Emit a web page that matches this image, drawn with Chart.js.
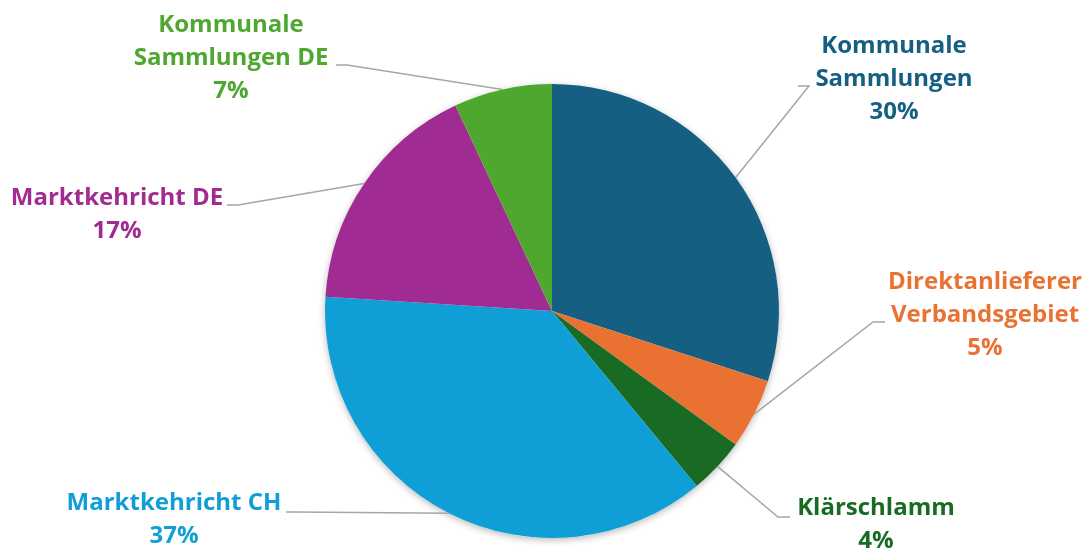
<!DOCTYPE html>
<html>
<head>
<meta charset="utf-8">
<script src="https://cdn.jsdelivr.net/npm/chart.js@4/dist/chart.umd.min.js"></script>
<style>
  html, body { margin: 0; padding: 0; background: #fff; }
  #wrap { width: 1085px; height: 549px; }
</style>
</head>
<body>
<div id="wrap"><canvas id="pieChart" width="1085" height="549"></canvas></div>
<script>
// Daten
const categories = [
    ['Kommunale', 'Sammlungen'],
    ['Direktanlieferer', 'Verbandsgebiet'],
    ['Klärschlamm'],
    ['Marktkehricht CH'],
    ['Marktkehricht DE'],
    ['Kommunale', 'Sammlungen DE']
];
const shares = [30, 5, 4, 37, 17, 7];
const sliceColors = ['#156082', '#E97132', '#196B24', '#0F9ED5', '#A02B93', '#4EA72E'];

// Lage der Beschriftungen (Textmitte, Zeilen, Knickpunkt der Führungslinie)
const labelLayout = [
    { x: 894, y: 46, elbow: [809, 86], end: 798 },
    { x: 985, y: 282, elbow: [873, 322], end: 885 },
    { x: 876, y: 508, elbow: [778, 517], end: 790 },
    { x: 174, y: 503, elbow: [296, 512], end: 286 },
    { x: 117, y: 198, elbow: [238, 205], end: 227 },
    { x: 231, y: 25, elbow: [347, 65], end: 336 }
];
const lineGap = 33;
const labelFont = 'bold 24px "Open Sans", sans-serif';

const total = shares.reduce((a, b) => a + b, 0);

// Schatten hinter dem Kreis
const shadowPlugin = {
    id: 'pieShadow',
    beforeDatasetsDraw(chart) {
        const arc = chart.getDatasetMeta(0).data[0];
        if (!arc) return;
        const ctx = chart.ctx;
        ctx.save();
        ctx.shadowColor = 'rgba(0,0,0,0.28)';
        ctx.shadowBlur = 7;
        ctx.shadowOffsetY = 2;
        ctx.fillStyle = '#ffffff';
        ctx.beginPath();
        ctx.arc(arc.x, arc.y, arc.outerRadius, 0, Math.PI * 2);
        ctx.fill();
        ctx.restore();
    }
};

// Beschriftungen mit Führungslinien
const labelPlugin = {
    id: 'pieLabels',
    afterDatasetsDraw(chart) {
        const ctx = chart.ctx;
        const meta = chart.getDatasetMeta(0);
        meta.data.forEach((arc, i) => {
            const p = arc.getProps(['x', 'y', 'startAngle', 'endAngle', 'outerRadius'], true);
            const mid = (p.startAngle + p.endAngle) / 2;
            const ax = p.x + Math.cos(mid) * p.outerRadius;
            const ay = p.y + Math.sin(mid) * p.outerRadius;
            const lay = labelLayout[i];

            ctx.save();
            ctx.strokeStyle = '#A6A6A6';
            ctx.lineWidth = 1.5;
            ctx.beginPath();
            ctx.moveTo(ax, ay);
            ctx.lineTo(lay.elbow[0], lay.elbow[1]);
            ctx.lineTo(lay.end, lay.elbow[1]);
            ctx.stroke();

            const lines = categories[i].concat([Math.round(shares[i] / total * 100) + '%']);
            ctx.fillStyle = sliceColors[i];
            ctx.font = labelFont;
            ctx.textAlign = 'center';
            ctx.textBaseline = 'middle';
            lines.forEach((t, k) => ctx.fillText(t, lay.x, lay.y + k * lineGap));
            ctx.restore();
        });
    }
};

const chart = new Chart(document.getElementById('pieChart').getContext('2d'), {
    type: 'pie',
    data: {
        labels: categories.map(c => c.join(' ')),
        datasets: [{
            data: shares,
            backgroundColor: sliceColors,
            borderWidth: 0
        }]
    },
    options: {
        responsive: false,
        animation: false,
        layout: { padding: { top: 84, bottom: 11, left: 19, right: 0 } },
        plugins: {
            legend: { display: false },
            tooltip: { enabled: false }
        }
    },
    plugins: [shadowPlugin, labelPlugin]
});
</script>
</body>
</html>
